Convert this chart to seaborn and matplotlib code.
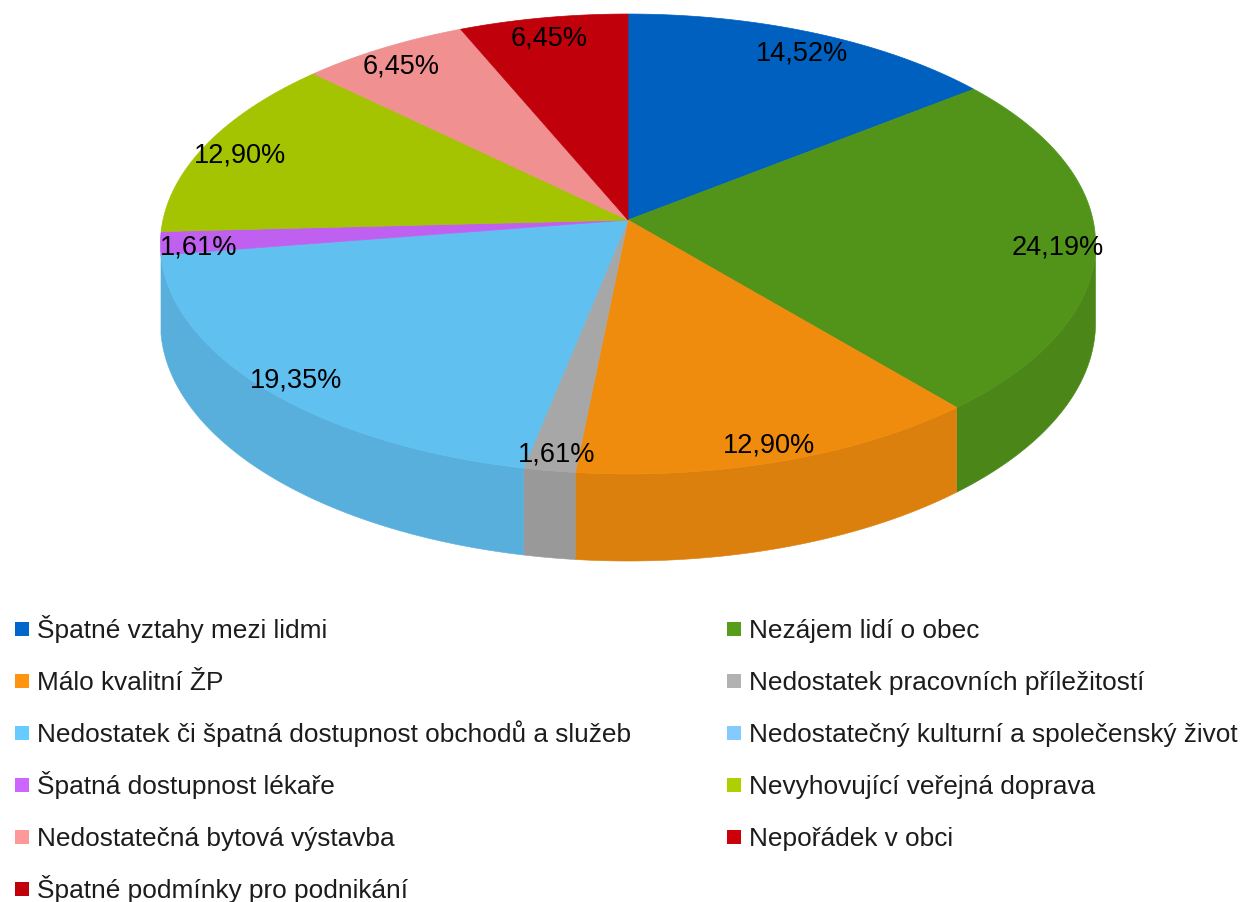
import numpy as np
import matplotlib
matplotlib.use('Agg')
import matplotlib.pyplot as plt
import matplotlib.colors as mcolors
import seaborn as sns

categories = ['Špatné vztahy mezi lidmi', 'Nezájem lidí o obec', 'Málo kvalitní ŽP',
              'Nedostatek pracovních příležitostí',
              'Nedostatek či špatná dostupnost obchodů a služeb',
              'Nedostatečný kulturní a společenský život', 'Špatná dostupnost lékaře',
              'Nevyhovující veřejná doprava', 'Nedostatečná bytová výstavba',
              'Nepořádek v obci', 'Špatné podmínky pro podnikání']
shares = [14.52, 24.19, 12.90, 1.61, 19.35, 0.0, 1.61, 12.90, 6.45, 6.45, 0.0]
colors = ['#0066cc', '#579d1c', '#ff950e', '#b2b2b2', '#66ccff', '#83caff',
          '#cc66ff', '#aecf00', '#ff9999', '#cc000b', '#c0000b']

sns.set_theme(style='white')
plt.rcParams['font.family'] = ['Liberation Sans', 'DejaVu Sans']
palette = sns.color_palette(colors)

fig = plt.figure(figsize=(12.42, 9.03), dpi=100)
ax = fig.add_axes([0, 0, 1, 1])
ax.set_xlim(0, 1242)
ax.set_ylim(903, 0)
ax.axis('off')

# fake 3d: tilted disc with a bit of perspective
cx, cy, rx, ry, persp, depth = 628, 221, 465, 204.4, 0.1043, 78


def project(theta, r=1.0):
    u = r * np.cos(theta)
    v = r * np.sin(theta)
    w = 1 + persp * v
    return cx + rx * u / w, (cy - ry * v) / w, w


def shade(c, f):
    return tuple(ch * f for ch in mcolors.to_rgb(c))


cum = np.concatenate([[0], np.cumsum(shares)]) / sum(shares)
angles = np.deg2rad(90 - 360 * cum)

# visible side walls (only the part facing the viewer)
for i, s in enumerate(shares):
    if s == 0:
        continue
    t = np.linspace(angles[i], angles[i + 1], 400)
    t = t[np.sin(t) <= -persp]
    if len(t) < 2:
        continue
    x, y, w = project(t)
    if np.ptp(x) < 3:
        continue
    side = shade(palette[i], 0.86)
    ax.fill(np.concatenate([x, x[::-1]]), np.concatenate([y, (y + depth / w)[::-1]]),
            color=side, lw=0.4, ec=side, zorder=1)

# top faces
for i, s in enumerate(shares):
    if s == 0:
        continue
    t = np.linspace(angles[i], angles[i + 1], 300)
    x, y, w = project(t)
    top = shade(palette[i], 0.94)
    ax.fill(np.concatenate([[cx], x]), np.concatenate([[cy], y]),
            color=top, lw=0.5, ec=top, zorder=2)

for i, s in enumerate(shares):
    if s == 0:
        continue
    mid = (angles[i] + angles[i + 1]) / 2
    lx, ly, _ = project(mid, 0.92)
    ax.text(lx, ly + 5, f'{s:.2f}'.replace('.', ',') + '%', ha='center', va='center',
            fontsize=19.5, color='black', zorder=3)

# legend, filled row by row in two columns
for k, name in enumerate(categories):
    row, col = divmod(k, 2)
    mx = 22 if col == 0 else 734
    my = 630 + 52 * row
    ax.scatter([mx], [my], marker='s', s=100, color=palette[k], linewidths=0, zorder=3)
    ax.text(mx + 15, my + 8, name, ha='left', va='baseline', fontsize=18.9,
            color='#1c1c1c', zorder=3)

fig.savefig('out.png', dpi=100)
